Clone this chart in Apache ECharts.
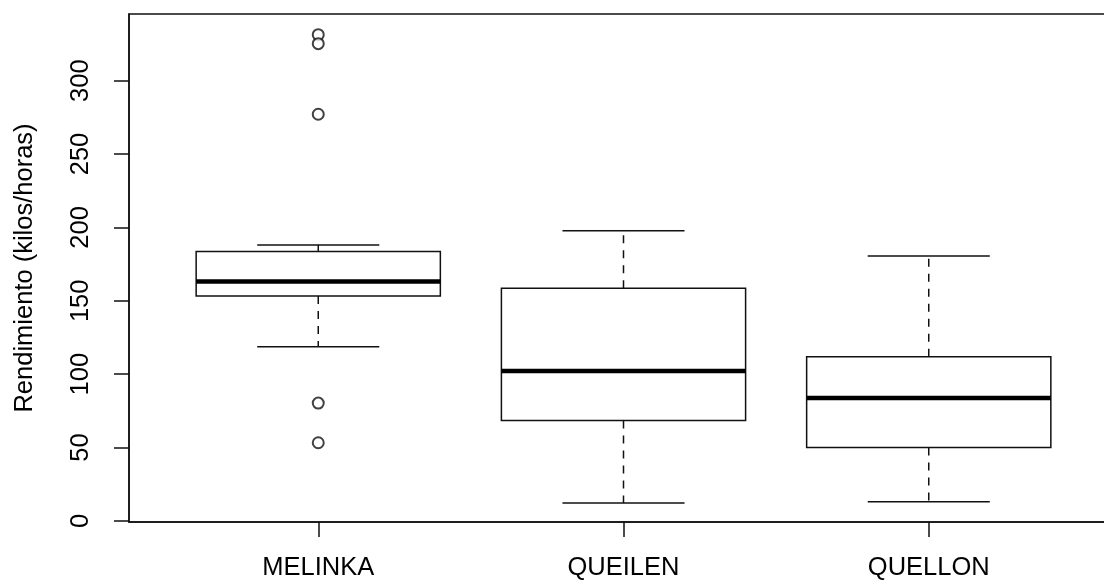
<!DOCTYPE html>
<html>
<head>
<meta charset="utf-8">
<script src="https://cdn.jsdelivr.net/npm/echarts@6/dist/echarts.min.js"></script>
<style>html,body{margin:0;padding:0;background:#fff;overflow:hidden;width:1104px;height:581px}#c{width:1130px;height:581px}</style>
</head>
<body>
<div id="c"></div>
<script>
// categories and five-number summaries
var categories = ['MELINKA', 'QUEILEN', 'QUELLON'];
var lowerWhisker = [118.7, 12.3, 13.1];
var q1Values = [153.2, 68.5, 50.1];
var medians = [163.1, 102.1, 83.7];
var q3Values = [183.6, 158.6, 111.9];
var upperWhisker = [188.1, 197.7, 180.6];
// outliers (MELINKA only)
var outlierCategory = [0, 0, 0, 0, 0];
var outlierValues = [331.3, 325.2, 277.1, 80.3, 53.3];
var yTicks = [0, 50, 100, 150, 200, 250, 300];
var yTitle = 'Rendimiento (kilos/horas)';

var boxData = categories.map(function (c, i) {
  return [i + 1, lowerWhisker[i], q1Values[i], medians[i], q3Values[i], upperWhisker[i]];
});
var outData = outlierValues.map(function (v, i) { return [outlierCategory[i] + 1, v]; });

var LW = 1.5, COL = '#111';
var FONT = '"Liberation Sans", Arial, sans-serif';
var FS = 25.5;

function renderBox(params, api) {
  var x = api.value(0), lo = api.value(1), q1 = api.value(2), med = api.value(3), q3 = api.value(4), hi = api.value(5);
  var bw = 0.4, cw = 0.2;
  var tl = api.coord([x - bw, q3]), br = api.coord([x + bw, q1]);
  var mL = api.coord([x - bw, med]), mR = api.coord([x + bw, med]);
  var c = api.coord([x, 0])[0];
  var pHi = api.coord([x, hi])[1], pLo = api.coord([x, lo])[1];
  var capL = api.coord([x - cw, 0])[0], capR = api.coord([x + cw, 0])[0];
  var solid = { stroke: COL, lineWidth: LW, fill: null };
  var dashed = { stroke: COL, lineWidth: LW, lineDash: [8, 7] };
  return {
    type: 'group',
    children: [
      { type: 'line', shape: { x1: c, y1: tl[1], x2: c, y2: pHi }, style: dashed },
      { type: 'line', shape: { x1: c, y1: br[1], x2: c, y2: pLo }, style: dashed },
      { type: 'line', shape: { x1: capL, y1: pHi, x2: capR, y2: pHi }, style: solid },
      { type: 'line', shape: { x1: capL, y1: pLo, x2: capR, y2: pLo }, style: solid },
      { type: 'rect', shape: { x: tl[0], y: tl[1], width: br[0] - tl[0], height: br[1] - tl[1] }, style: { stroke: COL, lineWidth: LW, fill: '#fff' } },
      { type: 'line', shape: { x1: mL[0], y1: mL[1], x2: mR[0], y2: mR[1] }, style: { stroke: '#000', lineWidth: 4.5 } }
    ]
  };
}

var chart = echarts.init(document.getElementById('c'), null, { renderer: 'canvas', width: 1130, height: 581 });
chart.setOption({
  animation: false,
  backgroundColor: '#fff',
  grid: { left: 129, top: 14, width: 989, height: 508, show: true, borderColor: COL, borderWidth: LW, backgroundColor: 'transparent' },
  xAxis: {
    type: 'value', min: 0.38, max: 3.62,
    splitLine: { show: false },
    axisLine: { show: true, onZero: false, lineStyle: { color: COL, width: LW } },
    axisTick: { show: true, length: 15, customValues: [1, 2, 3], lineStyle: { color: COL, width: LW } },
    axisLabel: {
      customValues: [1, 2, 3], margin: 33, color: '#000', fontFamily: FONT, fontSize: FS,
      formatter: function (v) { return categories[Math.round(v) - 1] || ''; }
    }
  },
  yAxis: {
    type: 'value', min: -0.7, max: 345.4,
    splitLine: { show: false },
    axisLine: { show: true, onZero: false, lineStyle: { color: COL, width: LW } },
    axisTick: { show: true, length: 15, customValues: yTicks, lineStyle: { color: COL, width: LW } },
    axisLabel: { customValues: yTicks, rotate: 90, margin: 35, color: '#000', fontFamily: FONT, fontSize: FS },
    name: yTitle, nameLocation: 'middle', nameRotate: 90, nameGap: 91,
    nameTextStyle: { color: '#000', fontFamily: FONT, fontSize: FS }
  },
  series: [
    { type: 'custom', renderItem: renderBox, data: boxData, encode: { x: 0, y: [1, 2, 3, 4, 5] }, clip: false, z: 2 },
    { type: 'scatter', data: outData, symbol: 'emptyCircle', symbolSize: 11,
      itemStyle: { color: COL, borderColor: COL, borderWidth: LW }, z: 3 }
  ]
});
</script>
</body>
</html>
